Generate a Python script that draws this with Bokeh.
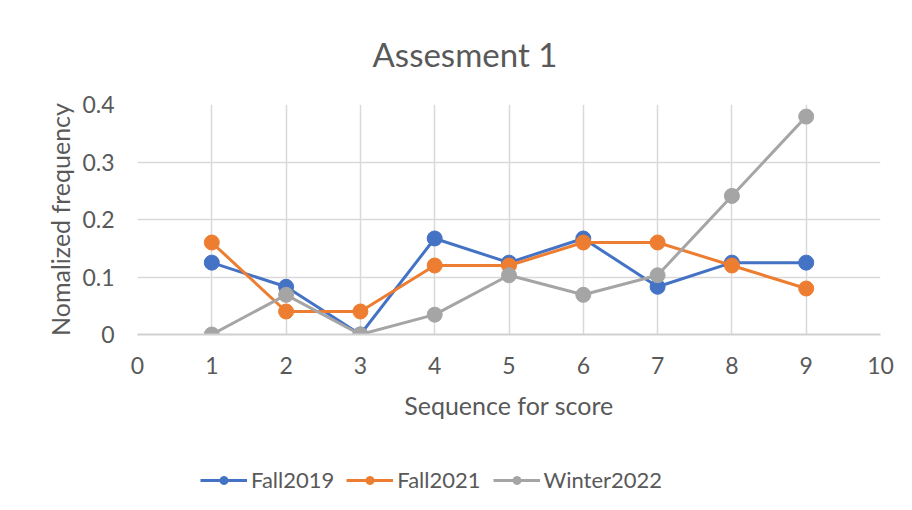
from bokeh.plotting import figure
from bokeh.models import Legend, LegendItem, FixedTicker, Range1d
from bokeh.layouts import column
from bokeh.embed import file_html
from bokeh.resources import INLINE

x = [1, 2, 3, 4, 5, 6, 7, 8, 9]
fall2019 = [0.125, 0.083, 0.0, 0.167, 0.125, 0.167, 0.083, 0.125, 0.125]
fall2021 = [0.16, 0.04, 0.04, 0.12, 0.12, 0.16, 0.16, 0.12, 0.08]
winter2022 = [0.0, 0.069, 0.0, 0.0345, 0.103, 0.069, 0.103, 0.241, 0.379]
series_names = ["Fall2019", "Fall2021", "Winter2022"]
colors = ["#4472C4", "#ED7D31", "#A5A5A5"]
x_ticks = list(range(0, 11))
y_ticks = [0, 0.1, 0.2, 0.3, 0.4]

FONT = "Lato"
TXT = "#595959"

p = figure(frame_width=743, frame_height=230,
           min_border_left=137, min_border_right=30, min_border_top=103, min_border_bottom=100,
           x_range=Range1d(0, 10), y_range=Range1d(0, 0.4),
           output_backend="svg", toolbar_location=None,
           title="Assesment 1")
p.outline_line_color = None

p.title.align = "left"
p.title.offset = 235
p.title.text_font = FONT
p.title.text_font_size = "33px"
p.title.text_font_style = "normal"
p.title.text_color = TXT
p.title.standoff = 62

for ax in (p.xaxis[0], p.yaxis[0]):
    ax.major_label_text_font = FONT
    ax.major_label_text_font_size = "23px"
    ax.major_label_text_color = TXT
    ax.axis_label_text_font = FONT
    ax.axis_label_text_font_size = "25px"
    ax.axis_label_text_font_style = "normal"
    ax.axis_label_text_color = TXT
    ax.major_tick_line_color = None
    ax.minor_tick_line_color = None

p.xaxis.ticker = FixedTicker(ticks=x_ticks)
p.yaxis.ticker = FixedTicker(ticks=y_ticks)
p.yaxis.major_label_overrides = {0: "0"}
p.xaxis.axis_label = "Sequence for score"
p.yaxis.axis_label = "Nomalized frequency"
p.xaxis.axis_line_color = "#d0d0d0"
p.xaxis.axis_line_width = 2
p.yaxis.axis_line_color = None
p.xaxis.major_label_standoff = 16
p.yaxis.major_label_standoff = 17
p.xaxis.axis_label_standoff = 13
p.yaxis.axis_label_standoff = 4

p.xgrid.grid_line_color = "#d9d9d9"
p.ygrid.grid_line_color = "#d9d9d9"
p.xgrid.grid_line_width = 1.5
p.ygrid.grid_line_width = 1.5

# legend strip: a second figure whose frame is the whole strip
leg = figure(frame_width=910, frame_height=70,
             min_border_left=0, min_border_right=0, min_border_top=0, min_border_bottom=0,
             x_range=Range1d(100, 101), y_range=Range1d(100, 101),
             x_axis_type=None, y_axis_type=None,
             output_backend="svg", toolbar_location=None)
leg.outline_line_color = None
leg.grid.visible = False

items = []
for name, vals, c in zip(series_names, [fall2019, fall2021, winter2022], colors):
    p.line(x, vals, line_color=c, line_width=3)
    p.scatter(x, vals, size=15, fill_color=c, line_color=c)
    l = leg.line(x, vals, line_color=c, line_width=3)
    s = leg.scatter(x, vals, size=15, fill_color=c, line_color=c)
    items.append(LegendItem(label=name, renderers=[l, s]))

legend = Legend(items=items, orientation="horizontal", location=(200, 11),
                glyph_width=47, label_standoff=4, spacing=12, padding=5, margin=0,
                label_text_font=FONT, label_text_font_size="22px", label_text_color=TXT,
                border_line_color=None, background_fill_alpha=0)
leg.add_layout(legend, "center")

layout = column(p, leg, spacing=0)
open("out.html", "w").write(file_html(layout, INLINE))
